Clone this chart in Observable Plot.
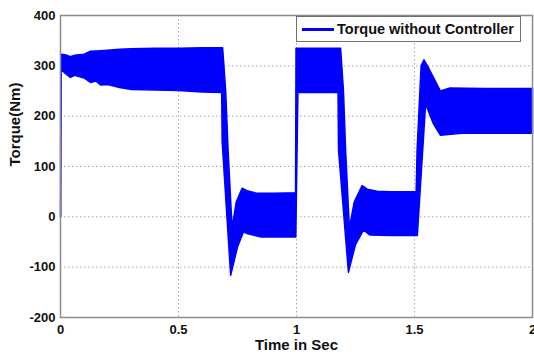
<!DOCTYPE html>
<html>
<head>
<meta charset="utf-8">
<script src="https://cdn.jsdelivr.net/npm/d3@7"></script>
<script src="https://cdn.jsdelivr.net/npm/@observablehq/plot@0.6"></script>
<style>
  html, body { margin: 0; padding: 0; background: #fff; }
  #wrap { position: relative; width: 534px; height: 358px; }
  #legend {
    position: absolute; left: 296px; top: 16px; width: 225px; height: 26px;
    border: 1px solid #707070; background: #fff; box-sizing: border-box;
    font-family: "Liberation Sans", Arial, sans-serif; font-weight: bold; font-size: 14.5px; color: #111;
  }
  #legend .swatch { position: absolute; left: 5px; top: 11px; width: 32px; height: 3px; background: #0000ff; }
  #legend .lab { position: absolute; left: 40px; top: 4px; white-space: nowrap; }
</style>
</head>
<body>
<div id="wrap"></div>
<script>
// Upper envelope of the oscillating torque signal: time (s), torque (Nm)
const upperTime = [0, 0.001, 0.02, 0.042, 0.06, 0.1, 0.127, 0.17, 0.2, 0.25, 0.3, 0.4, 0.5, 0.6, 0.687,
  0.700, 0.710, 0.727, 0.745, 0.77, 0.79, 0.83, 0.9, 0.996,
  0.998, 1.05, 1.1, 1.187, 1.199, 1.208, 1.224, 1.245, 1.278, 1.3, 1.342, 1.4, 1.507,
  1.511, 1.528, 1.54, 1.555, 1.61, 1.65, 1.8, 2];
const upperTorque = [0, 323, 322, 318, 321, 323, 329, 330, 331, 333, 334, 335, 335, 336, 336,
  250, 133, -22, 30, 57, 52, 47, 47, 48,
  335, 335, 335, 335, 250, 133, -22, 30, 62, 55, 51, 50, 50,
  133, 300, 312, 300, 250, 256, 255, 255];
// Lower envelope
const lowerTime = [0, 0.001, 0.003, 0.02, 0.042, 0.06, 0.1, 0.127, 0.15, 0.17, 0.2, 0.25, 0.3, 0.4, 0.5, 0.6, 0.683,
  0.685, 0.721, 0.75, 0.775, 0.79, 0.85, 0.997,
  1.006, 1.1, 1.176, 1.178, 1.22, 1.25, 1.284, 1.31, 1.4, 1.512,
  1.547, 1.58, 1.61, 1.7, 2];
const lowerTorque = [0, 0, 293, 285, 277, 281, 276, 267, 270, 262, 263, 257, 253, 252, 251, 248, 247,
  150, -116, -60, -30, -33, -40, -40,
  247, 247, 247, 133, -110, -55, -26, -36, -37, -37,
  224, 185, 162, 166, 166];

const xTicks = [0, 0.5, 1, 1.5, 2];
const xTickLabels = ["0", "0.5", "1", "1.5", "2"];
const yTicks = [-200, -100, 0, 100, 200, 300, 400];
const yTickLabels = ["-200", "-100", "0", "100", "200", "300", "400"];
const seriesName = "Torque without Controller";
const xLabel = "Time in Sec";
const yLabel = "Torque(Nm)";

// Closed outline: upper envelope forward, lower envelope backward
const outline = [
  ...upperTime.map((t, i) => ({t, v: upperTorque[i]})),
  ...lowerTime.map((t, i) => ({t, v: lowerTorque[i]})).reverse()
];

const chart = Plot.plot({
  width: 534,
  height: 358,
  marginLeft: 60,
  marginRight: 2,
  marginTop: 15,
  marginBottom: 41,
  style: {fontFamily: "Liberation Sans, Arial, sans-serif", fontWeight: "bold", fontSize: "13px", color: "#111", background: "#fff"},
  x: {domain: [0, 2], ticks: xTicks, tickFormat: (d) => xTickLabels[xTicks.indexOf(d)], tickSize: 0, tickPadding: 7, label: null},
  y: {domain: [-200, 400], ticks: yTicks, tickFormat: (d) => yTickLabels[yTicks.indexOf(d)], tickSize: 0, tickPadding: 5, label: null},
  marks: [
    Plot.ruleX(xTicks.slice(1, -1), {stroke: "#a8a8a8", strokeDasharray: "1.5,2.5", strokeWidth: 1}),
    Plot.ruleY(yTicks.slice(1, -1), {stroke: "#a8a8a8", strokeDasharray: "1.5,2.5", strokeWidth: 1}),
    Plot.line(outline, {x: "t", y: "v", fill: "#0000ff", stroke: "#0000ff", strokeWidth: 1.5, strokeLinejoin: "round"}),
    Plot.frame({stroke: "#8c8c8c", strokeWidth: 1.5}),
    Plot.text([yLabel], {frameAnchor: "left", dx: -45, rotate: -90, fontSize: 15, fontWeight: "bold"}),
    Plot.text([xLabel], {frameAnchor: "bottom", dy: 32, fontSize: 15, fontWeight: "bold"})
  ]
});

const wrap = document.getElementById("wrap");
wrap.appendChild(chart);
const legend = document.createElement("div");
legend.id = "legend";
legend.innerHTML = `<div class="swatch"></div><div class="lab"></div>`;
legend.querySelector(".lab").textContent = seriesName;
wrap.appendChild(legend);
</script>
</body>
</html>
